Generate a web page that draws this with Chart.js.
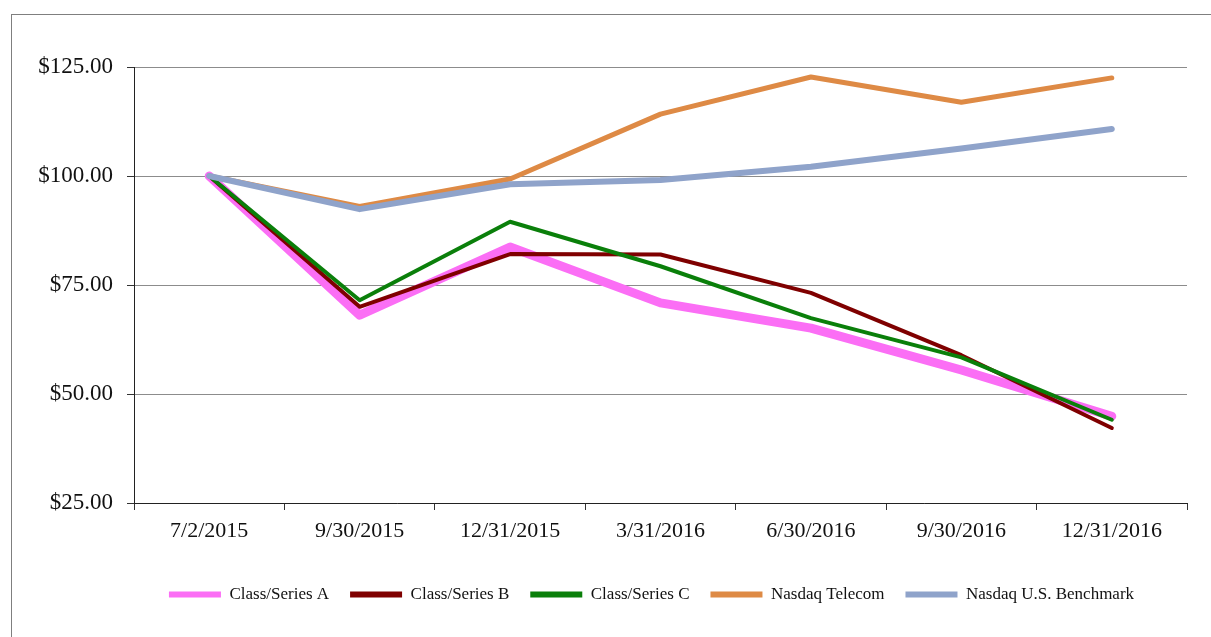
<!DOCTYPE html>
<html lang="en">
<head>
<meta charset="UTF-8">
<title>Stock performance</title>
<script src="https://cdn.jsdelivr.net/npm/chart.js@4.4.1/dist/chart.umd.min.js"></script>
<style>
  html, body { margin: 0; padding: 0; background: #fff; overflow: hidden; }
  #frame {
    position: absolute; left: 11px; top: 14px;
    width: 1300px; height: 700px;
    border: 1px solid #7f7f7f;
  }
  #chart { position: absolute; left: 0; top: 0; }
</style>
</head>
<body>
<div id="frame"></div>
<canvas id="chart" width="1211" height="637"></canvas>
<script>
const dates = ['7/2/2015', '9/30/2015', '12/31/2015', '3/31/2016', '6/30/2016', '9/30/2016', '12/31/2016'];

const seriesA = [100, 68.1, 83.7, 70.9, 65.1, 55.5, 44.9];
const seriesB = [100, 70.0, 82.1, 82.0, 73.2, 58.9, 42.2];
const seriesC = [100, 71.5, 89.5, 79.3, 67.4, 58.4, 44.1];
const telecom = [100, 93.0, 99.3, 114.2, 122.7, 116.9, 122.5];
const benchmark = [100, 92.4, 98.1, 99.1, 102.1, 106.3, 110.8];

const yTicks = [25, 50, 75, 100, 125];

function line(label, data, color, width, order) {
  return {
    label: label,
    data: data,
    borderColor: color,
    backgroundColor: color,
    pointBorderColor: color,
    pointBackgroundColor: color,
    borderWidth: width,
    pointBorderWidth: 6,
    pointRadius: 0,
    pointHoverRadius: 0,
    tension: 0,
    fill: false,
    borderCapStyle: 'round',
    borderJoinStyle: 'round',
    order: order
  };
}

const font = { family: '"Liberation Serif", "Times New Roman", serif' };

// legend sits a little left of the plot centre in the original
const legendShift = {
  id: 'legendShift',
  afterLayout(chart) {
    chart.legend.left -= 9;
    chart.legend.right -= 9;
  }
};

new Chart(document.getElementById('chart').getContext('2d'), {
  type: 'line',
  data: {
    labels: dates,
    datasets: [
      line('Class/Series A', seriesA, '#fb6ef5', 9, 5),
      line('Class/Series B', seriesB, '#7f0000', 4, 4),
      line('Class/Series C', seriesC, '#0a7f0a', 4, 3),
      line('Nasdaq Telecom', telecom, '#de8a45', 5, 2),
      line('Nasdaq U.S. Benchmark', benchmark, '#8fa3ca', 6, 1)
    ]
  },
  plugins: [legendShift],
  options: {
    responsive: false,
    devicePixelRatio: 1,
    animation: false,
    layout: { padding: { top: 67, left: 0, right: 24, bottom: 24 } },
    plugins: {
      tooltip: { enabled: false },
      legend: {
        position: 'bottom',
        fullSize: false,
        labels: {
          usePointStyle: true,
          pointStyle: 'line',
          pointStyleWidth: 52,
          boxHeight: 6,
          padding: 21,
          color: '#111',
          font: { family: font.family, size: 17 },
          sort: (a, b) => a.datasetIndex - b.datasetIndex
        }
      }
    },
    scales: {
      x: {
        offset: true,
        afterFit: (scale) => { scale.height = 62; },
        grid: {
          offset: true,
          drawOnChartArea: false,
          drawTicks: true,
          tickLength: 7,
          tickColor: '#333'
        },
        border: { color: '#222', width: 1 },
        ticks: {
          padding: 8,
          maxRotation: 0,
          color: '#111',
          font: { family: font.family, size: 22 }
        }
      },
      y: {
        min: 25,
        max: 125,
        afterFit: (scale) => { scale.width = 134; },
        afterBuildTicks: (scale) => { scale.ticks = yTicks.map(v => ({ value: v })); },
        grid: {
          color: '#8c8c8c',
          lineWidth: 1,
          drawTicks: true,
          tickLength: 7,
          tickColor: '#333'
        },
        border: { color: '#222', width: 1 },
        ticks: {
          padding: 14,
          color: '#111',
          font: { family: font.family, size: 23 },
          callback: (v) => '$' + Number(v).toFixed(2)
        }
      }
    }
  }
});
</script>
</body>
</html>
